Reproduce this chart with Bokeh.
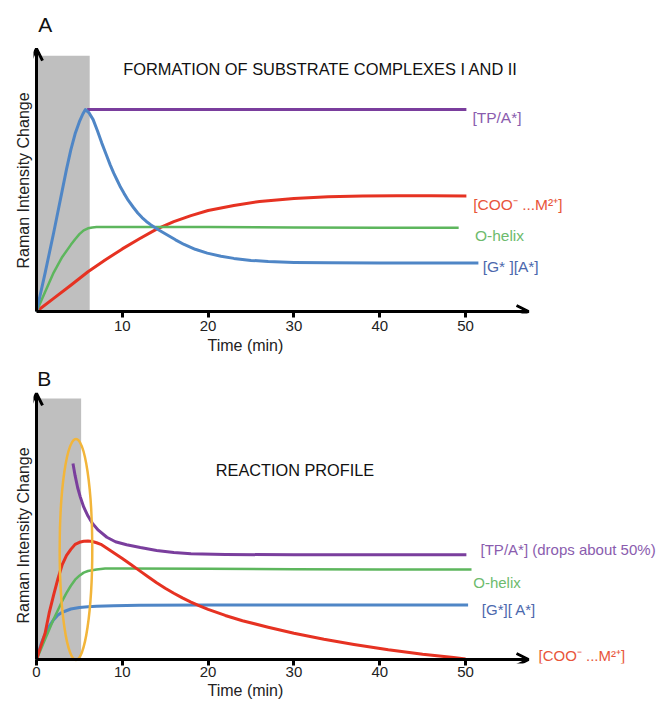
from bokeh.plotting import figure
from bokeh.layouts import column
from bokeh.models import Arrow, OpenHead, FixedTicker, Range1d, Title
from bokeh.core.properties import value
from bokeh.embed import file_html
from bokeh.resources import INLINE

FONT = "Liberation Sans"

# ---------------- Panel A data ----------------
a_ticks = [10, 20, 30, 40, 50]
a_shade_end = [6.2]
a_shade_top = [126.7]

a_tp_t = [5.9, 50.1]
a_tp_v = [100, 100]

a_blue_t = [0, 1, 2, 3, 3.5, 4, 4.5, 5, 5.4, 5.7, 6.1, 6.6, 7.1, 7.6, 8.1, 8.6, 9.0, 9.4,
            9.8, 10.2, 10.7, 11.3, 11.8, 12.3, 12.8, 13.3, 14.2, 15.2, 16.2, 17.2, 18.5,
            19.9, 21.5, 23, 25, 27, 30, 34, 40, 45, 51.5]
a_blue_v = [0, 19, 39, 60, 70.5, 80, 88, 94, 97.8, 100, 98.5, 95, 89.5, 83.5, 78, 72.5,
            68.5, 65, 61.5, 58.5, 55, 51.5, 48.8, 46.5, 44.6, 43, 40.5, 38, 35.5, 33.2,
            30.8, 28.9, 27.4, 26.3, 25.3, 24.7, 24.3, 24.1, 24, 24, 24]

a_green_t = [0, 1, 2, 3, 4, 4.5, 5, 5.5, 6, 6.5, 7, 8, 10, 20, 30, 40, 49.2]
a_green_v = [0, 9.7, 19.3, 27, 33, 35.8, 38.3, 40.2, 41.2, 41.6, 41.8, 41.9, 41.9, 41.8,
             41.6, 41.5, 41.5]

a_red_t = [0, 2, 4, 6, 8, 10, 12, 14, 16, 18, 20, 23, 26, 30, 34, 38, 42, 46, 50.1]
a_red_v = [0, 6.5, 13, 19.7, 25.5, 31, 36, 40.8, 44.5, 47.5, 50, 52.5, 54.5, 56, 56.8,
           57.2, 57.3, 57.3, 57.2]

a_labels = ["[TP/A*]", "[COO\u207b ...M\u00b2\u207a]", "O-helix", "[G* ][A*]"]
a_label_t = [50.8, 50.9, 51.1, 52.0]
a_label_v = [95.9, 53.0, 37.8, 22.1]

# ---------------- Panel B data ----------------
b_ticks = [0, 10, 20, 30, 40, 50]
b_shade_end = [5.2]
b_shade_top = [129.2]

b_tp_t = [4.25, 4.5, 4.8, 5.1, 5.5, 6.0, 6.5, 7.2, 8.2, 9.2, 10.5, 12.1, 14, 16, 18, 22,
          30, 40, 50.1]
b_tp_v = [97, 91, 85, 80.5, 75.5, 71, 67.5, 64, 60.5, 58.3, 56.8, 55.4, 54, 53, 52.4, 52,
          51.8, 51.8, 51.8]

b_red_t = [0, 0.5, 1, 1.5, 2, 2.5, 3, 3.5, 4, 4.5, 5, 5.5, 6, 6.5, 7, 7.5, 8.6, 10, 11, 12,
           13, 14, 15, 16, 17, 18, 19, 20, 22, 24, 27, 30, 33.5, 37, 41, 45, 48.6, 50]
b_red_v = [0, 6.5, 13, 23.5, 32, 40, 47, 51.5, 54.5, 57, 58, 58.5, 58.6, 58.4, 57.8, 57,
           54, 50, 47, 44, 41, 38, 35.3, 32.8, 30.5, 28.4, 26.5, 24.8, 21.8, 19.2, 16,
           13, 10, 7.4, 4.8, 2.6, 1, 0.2]

b_green_t = [0, 0.5, 1, 1.5, 2, 2.5, 3, 3.5, 4, 4.5, 5, 5.5, 6, 7, 8, 10, 20, 30, 40, 50.7]
b_green_v = [0, 5, 10, 15, 20, 24.5, 29, 33, 36.5, 39.5, 41.5, 43, 43.8, 44.6, 45, 45,
             44.9, 44.7, 44.6, 44.5]

b_blue_t = [0, 0.3, 0.6, 1, 1.5, 2, 2.5, 3, 4, 5, 6, 7, 9, 12, 20, 30, 40, 50.3]
b_blue_v = [0, 4.5, 8.5, 12.5, 16.5, 19.7, 22, 23.4, 25, 25.7, 26.1, 26.3, 26.6, 26.8, 27,
            27, 27, 27]

b_oval_t = [4.6]
b_oval_v = [54.5]
b_oval_w = [3.8]
b_oval_h = [109.4]

b_labels = ["[TP/A*] (drops about 50%)", "O-helix", "[G*][ A*]", "[COO\u207b ...M\u00b2\u207a]"]
b_label_t = [51.75, 50.9, 51.9, 58.5]
b_label_v = [54.5, 38.3, 24.8, 2.0]

PURPLE = "#7a3e9d"
BLUE = "#4f86c6"
RED = "#e63222"
GREEN = "#5db65d"
LBL_P, LBL_R, LBL_G, LBL_B = "#8a5cae", "#e8553a", "#6dbb6d", "#4b68ad"
TXT = "#222222"

W = 658
X0, X1 = -0.35, 72.49


def base_fig(height, y_bottom, y_top, border_bottom, ticks, tick_in, tick_out,
             major_standoff, xtitle_standoff, ytitle_offset):
    p = figure(width=W, height=height,
               x_range=Range1d(X0, X1), y_range=Range1d(y_bottom, y_top),
               output_backend="svg", toolbar_location=None, y_axis_location=None,
               min_border_left=33, min_border_right=0, min_border_top=0,
               min_border_bottom=border_bottom)
    p.outline_line_color = None
    p.grid.visible = False
    p.background_fill_color = "white"
    p.border_fill_color = "white"
    xa = p.xaxis[0]
    xa.ticker = FixedTicker(ticks=ticks)
    xa.minor_tick_line_color = None
    xa.axis_line_color = None
    xa.major_tick_line_width = 3
    xa.major_tick_line_color = "black"
    xa.major_tick_out = tick_out
    xa.major_tick_in = tick_in
    xa.major_label_text_font = FONT
    xa.major_label_text_font_size = "15px"
    xa.major_label_text_color = TXT
    xa.major_label_standoff = major_standoff
    p.add_layout(Title(text="Time (min)", align="left", offset=174,
                       standoff=xtitle_standoff, text_font=FONT,
                       text_font_style="normal", text_font_size="16px",
                       text_color=TXT), "below")
    p.add_layout(Title(text="Raman Intensity Change", align="left", offset=ytitle_offset,
                       standoff=4, text_font=FONT, text_font_style="normal",
                       text_font_size="16px", text_color=TXT), "left")
    return p


def add_axes_arrows(p, y_tip, x_tip):
    p.add_layout(Arrow(end=OpenHead(size=12, line_width=3, line_color="black"),
                       x_start=0, y_start=0, x_end=x_tip, y_end=0,
                       line_width=3, line_color="black"))
    p.add_layout(Arrow(end=OpenHead(size=12, line_width=3, line_color="black"),
                       x_start=0, y_start=0, x_end=0, y_end=y_tip,
                       line_width=3, line_color="black"))


# ---------------- Panel A ----------------
pa = base_fig(359, -0.99, 154.0, 46, a_ticks, 2, 4, 3, 2, 45)
pa.quad(left=[0], right=a_shade_end, bottom=[0], top=a_shade_top,
        fill_color="#bfbfbf", line_color=None)
pa.line(a_red_t, a_red_v, line_width=3, line_color=RED, line_join="round")
pa.line(a_green_t, a_green_v, line_width=2.5, line_color=GREEN, line_join="round")
pa.line(a_tp_t, a_tp_v, line_width=3, line_color=PURPLE)
pa.line(a_blue_t, a_blue_v, line_width=3, line_color=BLUE, line_join="round")
add_axes_arrows(pa, 130.2, 57.34)
pa.text(x=a_label_t, y=a_label_v, text=a_labels,
        text_color=[LBL_P, LBL_R, LBL_G, LBL_B],
        text_font=value(FONT), text_font_size=value("15.5px"),
        text_baseline="middle", text_align="left")
pa.text(x=[0.2], y=[142.3], text=["A"], text_color="#111111",
        text_font=value(FONT), text_font_size=value("21px"),
        text_baseline="middle", text_align="left")
pa.text(x=[10.1], y=[120.3], text=["FORMATION OF SUBSTRATE COMPLEXES I AND II"],
        text_color="#111111", text_font=value(FONT), text_font_size=value("16.4px"),
        text_baseline="middle", text_align="left")

# ---------------- Panel B ----------------
pb = base_fig(341, -1.98, 148.5, 37, b_ticks, 4, 2, 1, 0, 40)
pb.quad(left=[0], right=b_shade_end, bottom=[0], top=b_shade_top,
        fill_color="#bfbfbf", line_color=None)
pb.line(b_blue_t, b_blue_v, line_width=3, line_color=BLUE, line_join="round")
pb.line(b_green_t, b_green_v, line_width=2.5, line_color=GREEN, line_join="round")
pb.line(b_red_t, b_red_v, line_width=3, line_color=RED, line_join="round")
pb.line(b_tp_t, b_tp_v, line_width=3, line_color=PURPLE, line_join="round")
pb.ellipse(x=b_oval_t, y=b_oval_v, width=b_oval_w, height=b_oval_h,
           fill_color=None, line_color="#f2b53a", line_width=2.5)
add_axes_arrows(pb, 131.7, 57.34)
pb.text(x=b_label_t, y=b_label_v, text=b_labels,
        text_color=[LBL_P, LBL_G, LBL_B, LBL_R],
        text_font=value(FONT), text_font_size=value("15px"),
        text_baseline="middle", text_align="left")
pb.text(x=[0.1], y=[138.9], text=["B"], text_color="#111111",
        text_font=value(FONT), text_font_size=value("21px"),
        text_baseline="middle", text_align="left")
pb.text(x=[20.9], y=[93.6], text=["REACTION PROFILE"],
        text_color="#111111", text_font=value(FONT), text_font_size=value("16.3px"),
        text_baseline="middle", text_align="left")

layout = column(pa, pb, spacing=0)
open("out.html", "w").write(file_html(layout, INLINE))
